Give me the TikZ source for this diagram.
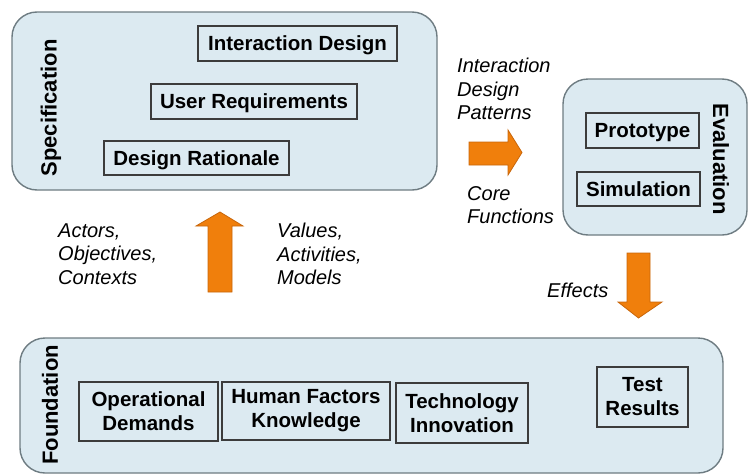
\documentclass[tikz,border=0pt]{standalone}
\usepackage{fontspec}
\setmainfont{Liberation Sans}
\definecolor{panelfill}{HTML}{DCEAF1}
\definecolor{panelline}{HTML}{6E7C82}
\definecolor{boxline}{HTML}{3C3C3C}
\definecolor{arrowfill}{HTML}{F07F0C}
\definecolor{arrowline}{HTML}{C8660A}
\begin{document}
\begin{tikzpicture}[x=1pt,y=-1pt,
  panel/.style={draw=panelline,fill=panelfill,line width=1.4pt,rounded corners=25pt},
  itembox/.style={draw=boxline,fill=panelfill,line width=1.6pt,inner sep=0pt,align=center,
    font=\bfseries\fontsize{20.5}{24}\selectfont},
  onelinebox/.style={itembox,text height=14.7pt,text depth=0pt},
  panellabel/.style={font=\bfseries\fontsize{22}{26}\selectfont,inner sep=0pt},
  flowlabel/.style={font=\itshape\fontsize{20}{23.5}\selectfont,align=left,inner sep=0pt,anchor=west},
  blockarrow/.style={fill=arrowfill,draw=arrowline,line width=0.8pt,line join=miter}]
\useasboundingbox (0,0) rectangle (749,474);
% panels
\draw[panel] (12,12) rectangle (437,190);
\draw[panel] (563,79) rectangle (747,235);
\draw[panel] (20,338) rectangle (723,473);
% panel labels
\node[panellabel,rotate=90] (spec) at (51,108) {Specification};
\node[panellabel,rotate=-90] (eval) at (721,159) {Evaluation};
\node[panellabel,rotate=90] (found) at (50,405) {Foundation};
% specification items
\node[onelinebox,minimum width=199pt,minimum height=35pt] (intd) at (297.5,43.5) {Interaction Design};
\node[onelinebox,minimum width=206pt,minimum height=35pt] (ureq) at (254,101.5) {User Requirements};
\node[onelinebox,minimum width=185pt,minimum height=34pt] (drat) at (196.5,158) {Design Rationale};
% evaluation items
\node[onelinebox,minimum width=113pt,minimum height=35pt] (proto) at (642.5,130.5) {Prototype};
\node[onelinebox,minimum width=123pt,minimum height=34pt] (sim) at (638.5,189) {Simulation};
% foundation items
\node[itembox,minimum width=139pt,minimum height=59pt] (opd) at (148.5,411.5) {Operational\\Demands};
\node[itembox,minimum width=168pt,minimum height=58pt] (hfk) at (306,411) {Human Factors\\Knowledge};
\node[itembox,minimum width=132pt,minimum height=60pt] (tech) at (462,413) {Technology\\Innovation};
\node[itembox,minimum width=91pt,minimum height=60pt] (test) at (642.5,397) {Test\\Results};
% flow labels
\node[flowlabel] (idp) at (457,89) {Interaction\\Design\\Patterns};
\node[flowlabel] (cf) at (467,205) {Core\\Functions};
\node[flowlabel] (eff) at (547,290) {Effects};
\node[flowlabel] (aoc) at (58,254) {Actors,\\Objectives,\\Contexts};
\node[flowlabel] (vam) at (277,254) {Values,\\Activities,\\Models};
% block arrows
\filldraw[blockarrow] (469,142) -- (508,142) -- (508,130) -- (522,152.5) -- (508,175) -- (508,165) -- (469,165) -- cycle;
\filldraw[blockarrow] (627,253) -- (650,253) -- (650,302) -- (662,302) -- (638.5,318) -- (618,302) -- (627,302) -- cycle;
\filldraw[blockarrow] (208,292) -- (208,226) -- (196,226) -- (220,212) -- (243,226) -- (232,226) -- (232,292) -- cycle;
\end{tikzpicture}
\end{document}
